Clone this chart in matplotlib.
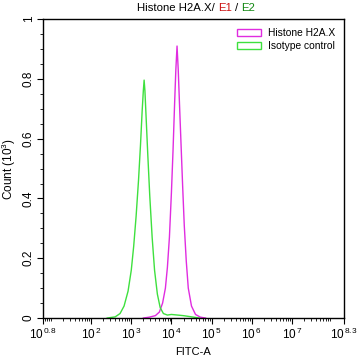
import numpy as np
import matplotlib
matplotlib.use("Agg")
import matplotlib.pyplot as plt
from matplotlib.patches import Patch
from matplotlib.ticker import FixedLocator, NullFormatter

plt.rcParams['font.family'] = ['Liberation Sans', 'DejaVu Sans']
plt.rcParams['mathtext.fontset'] = 'custom'
plt.rcParams['mathtext.rm'] = 'Liberation Sans'
plt.rcParams['mathtext.it'] = 'Liberation Sans'

# Histogram curves (log10 FITC-A, count in 10^3)
sample_logx = [3.30, 3.45, 3.60, 3.70, 3.78, 3.85, 3.90, 3.95, 4.00, 4.04, 4.08, 4.11,
               4.14, 4.17, 4.20, 4.24, 4.28, 4.32, 4.37, 4.42, 4.50, 4.60, 4.72, 4.85]
sample_count = [0.0, 0.003, 0.008, 0.02, 0.05, 0.10, 0.17, 0.27, 0.42, 0.56, 0.72, 0.83,
                0.91, 0.83, 0.72, 0.58, 0.44, 0.31, 0.19, 0.10, 0.04, 0.012, 0.003, 0.0]

isotype_logx = [2.40, 2.60, 2.72, 2.82, 2.92, 3.00, 3.06, 3.12, 3.18, 3.23, 3.27, 3.30,
                3.32, 3.34, 3.37, 3.41, 3.46, 3.52, 3.58, 3.65, 3.72, 3.80, 3.90, 4.00,
                4.15, 4.30, 4.50, 4.70]
isotype_count = [0.0, 0.004, 0.015, 0.04, 0.09, 0.16, 0.24, 0.34, 0.46, 0.58, 0.69, 0.76,
                 0.796, 0.76, 0.67, 0.55, 0.41, 0.27, 0.16, 0.08, 0.035, 0.015, 0.01, 0.012,
                 0.01, 0.008, 0.004, 0.0]

sample_color = "#e02ce0"
isotype_color = "#3ee03e"

fig = plt.figure(figsize=(3.58, 3.61), dpi=100)
ax = fig.add_axes([0.120, 0.119, 0.841, 0.828])

ax.plot(10 ** np.array(sample_logx), sample_count, color=sample_color, lw=1.0)
ax.plot(10 ** np.array(isotype_logx), isotype_count, color=isotype_color, lw=1.0)

ax.set_xscale('log')
ax.set_xlim(10 ** 0.8, 10 ** 8.3)
ax.set_ylim(0, 1)

major = [10 ** 0.8] + [10 ** k for k in range(2, 8)] + [10 ** 8.3]
labels = [r'$10^{\,0.8}$'] + [r'$10^{\,%d}$' % k for k in range(2, 8)] + [r'$10^{\,8.3}$']
ax.xaxis.set_major_locator(FixedLocator(major))
ax.set_xticklabels(labels)
minor = [m * 10 ** k for k in range(0, 9) for m in range(1, 10)
         if 10 ** 0.8 < m * 10 ** k < 10 ** 8.3 and not (m == 1 and k >= 2)]
ax.xaxis.set_minor_locator(FixedLocator(minor))
ax.xaxis.set_minor_formatter(NullFormatter())

ax.set_yticks([0, 0.2, 0.4, 0.6, 0.8, 1.0])
ax.set_yticklabels(['0', '0.2', '0.4', '0.6', '0.8', '1'], rotation=90, va='center')
ax.set_yticks(np.arange(0, 1.0001, 0.05), minor=True)

ax.tick_params(axis='both', which='major', labelsize=8.5, length=4, width=0.8,
               direction='out', pad=2)
ax.tick_params(axis='both', which='minor', length=2, width=0.6, direction='out')
for s in ax.spines.values():
    s.set_linewidth(1.0)

ax.set_xlabel('FITC-A', fontsize=8, labelpad=4)
ax.set_ylabel(r'Count (10$^3$)', fontsize=8.5, labelpad=3)

handles = [Patch(facecolor='none', edgecolor=sample_color, label='Histone H2A.X'),
           Patch(facecolor='none', edgecolor=isotype_color, label='Isotype control')]
ax.legend(handles=handles, loc='upper right', frameon=False, fontsize=7.4,
          handlelength=2.4, handleheight=0.6, borderaxespad=0.5, labelspacing=0.25,
          handletextpad=0.6)

# coloured title pieces, placed side by side with small gaps
parts = [("Histone H2A.X/", "#000000"), ("E1", "#cc1111"), ("/", "#000000"), ("E2", "#118811")]
gap = 3.0
renderer = fig.canvas.get_renderer()
texts = []
for s, c in parts:
    texts.append(fig.text(0, 0.977, s, color=c, fontsize=8.2, va='center', ha='left'))
widths = [t.get_window_extent(renderer).width for t in texts]
total = sum(widths) + gap * (len(parts) - 1)
x = 0.548 * fig.bbox.width - total / 2
for t, w in zip(texts, widths):
    t.set_x(x / fig.bbox.width)
    x += w + gap

fig.savefig("out.png", dpi=100)
